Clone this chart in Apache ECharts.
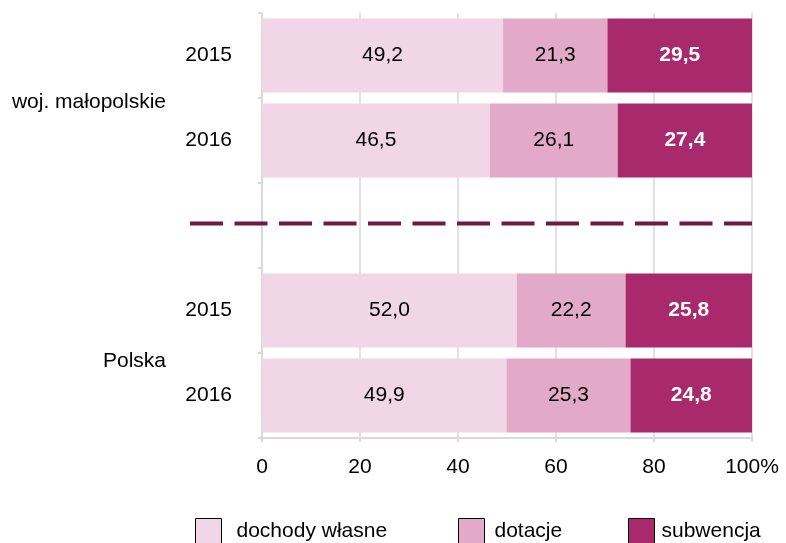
<!DOCTYPE html>
<html>
<head>
<meta charset="utf-8">
<script src="https://cdn.jsdelivr.net/npm/echarts@6/dist/echarts.min.js"></script>
<style>
html,body{margin:0;padding:0;background:#fff;}
#chart{width:786px;height:543px;}
</style>
</head>
<body>
<div id="chart"></div>
<script>
var categories = ['2015', '2016', '', '2015', '2016'];
var groupLabels = ['woj. małopolskie', 'Polska'];
var groupPositions = [1, 4];
var seriesNames = ['dochody własne', 'dotacje', 'subwencja'];
var ownIncome = [49.2, 46.5, null, 52.0, 49.9];
var grants = [21.3, 26.1, null, 22.2, 25.3];
var subsidy = [29.5, 27.4, null, 25.8, 24.8];
var xTicks = [0, 20, 40, 60, 80, 100];
var separatorCategory = 2;

var FONT = 'Liberation Sans, Arial, sans-serif';
var FS = 21;
var colors = ['#F0D6E7', '#E2A9C8', '#A9296D'];

function fmt(v) { return v.toFixed(1).replace('.', ','); }

var chart = echarts.init(document.getElementById('chart'), null, {renderer: 'canvas'});

function mkSeries(name, data, color, labelColor, bold) {
  return {
    name: name,
    type: 'bar',
    stack: 'total',
    data: data,
    barCategoryGap: '13%',
    itemStyle: {color: color, borderColor: color, borderWidth: 0},
    label: {
      show: true,
      position: 'inside',
      color: labelColor,
      fontFamily: FONT,
      fontSize: FS,
      fontWeight: bold ? 'bold' : 'normal',
      formatter: function (p) { return p.value == null ? '' : fmt(p.value); }
    },
    emphasis: {disabled: true},
    animation: false
  };
}

function mkLegend(name, left, pad) {
  return {
    data: [name],
    left: left,
    top: 513,
    itemWidth: 26,
    itemHeight: 26,
    icon: 'rect',
    itemStyle: {borderColor: '#000', borderWidth: 1},
    textStyle: {fontFamily: FONT, fontSize: FS, color: '#000', padding: [0, 0, 0, pad]},
    selectedMode: false
  };
}

var option = {
  backgroundColor: '#fff',
  animation: false,
  grid: {left: 262, right: 34, top: 13, bottom: 105, containLabel: false},
  legend: [
    mkLegend(seriesNames[0], 190, 10),
    mkLegend(seriesNames[1], 453, 5),
    mkLegend(seriesNames[2], 623, 2)
  ],
  xAxis: {
    type: 'value',
    min: 0,
    max: 100,
    interval: 20,
    axisLine: {show: true, onZero: false, lineStyle: {color: '#d9d9d9', width: 2}},
    axisTick: {show: true, length: 4, lineStyle: {color: '#d9d9d9', width: 2}},
    splitLine: {show: true, lineStyle: {color: '#d9d9d9', width: 1.5}},
    axisLabel: {
      fontFamily: FONT, fontSize: FS, color: '#000', margin: 19,
      customValues: xTicks,
      formatter: function (v) { return v === 100 ? '100%' : String(v); }
    }
  },
  yAxis: [
    {
      type: 'category',
      inverse: true,
      data: categories,
      axisLine: {show: true, onZero: false, lineStyle: {color: '#d9d9d9', width: 2}},
      axisTick: {show: true, length: 4, lineStyle: {color: '#d9d9d9', width: 2}},
      axisLabel: {fontFamily: FONT, fontSize: FS, color: '#000', margin: 30}
    },
    {
      type: 'value',
      position: 'left',
      inverse: true,
      min: 0,
      max: 5,
      interval: 1,
      axisLine: {show: false, onZero: false},
      axisTick: {show: false},
      splitLine: {show: false},
      axisLabel: {
        fontFamily: FONT, fontSize: FS, color: '#000', margin: 96,
        showMinLabel: true, showMaxLabel: true, hideOverlap: false,
        formatter: function (v) {
          var i = groupPositions.indexOf(v);
          if (i === 0) return '{a|' + groupLabels[0] + '}';
          if (i === 1) return '{b|' + groupLabels[1] + '}';
          return '';
        },
        rich: {
          a: {fontFamily: FONT, fontSize: FS, color: '#000', padding: [8, 0, 0, 0]},
          b: {fontFamily: FONT, fontSize: FS, color: '#000', padding: [16, 0, 0, 0]}
        }
      }
    }
  ],
  series: [
    mkSeries(seriesNames[0], ownIncome, colors[0], '#000', false),
    mkSeries(seriesNames[1], grants, colors[1], '#000', false),
    mkSeries(seriesNames[2], subsidy, colors[2], '#fff', true)
  ]
};
chart.setOption(option);

var yMid = chart.convertToPixel({yAxisIndex: 0}, separatorCategory) - 2;
var xEnd = chart.convertToPixel({xAxisIndex: 0}, 100);
chart.setOption({
  graphic: [{
    type: 'line',
    z: 10,
    shape: {x1: 190, y1: yMid, x2: xEnd, y2: yMid},
    style: {stroke: '#6E1A47', lineWidth: 4, lineDash: [33, 11.5]}
  }]
});
</script>
</body>
</html>
